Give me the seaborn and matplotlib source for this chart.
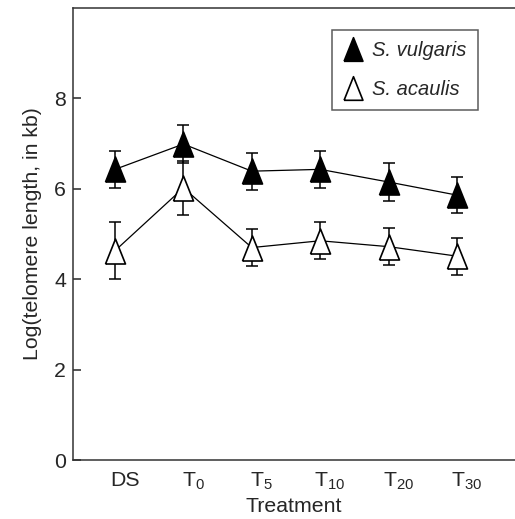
"""
Telomere length by treatment for two Silene species.
Line plot with error bars, drawn with seaborn + matplotlib.
"""

import numpy as np
import pandas as pd
import matplotlib
matplotlib.use("Agg")
import matplotlib.pyplot as plt
import matplotlib.transforms as mtransforms
from matplotlib.lines import Line2D
import seaborn as sns

# data
treatments = [r"DS", r"T$_{0}$", r"T$_{5}$", r"T$_{10}$", r"T$_{20}$", r"T$_{30}$"]
vulgaris_mean = [6.43, 6.99, 6.39, 6.43, 6.15, 5.86]
vulgaris_err = [0.41, 0.42, 0.41, 0.41, 0.41, 0.40]
acaulis_mean = [4.63, 6.02, 4.70, 4.85, 4.72, 4.51]
acaulis_err = [0.63, 0.59, 0.40, 0.41, 0.41, 0.41]
y_ticks = [0, 2, 4, 6, 8]

FONT = 15.3
LEG_FONT = 14.5
TRI = [(-0.8, -1.0), (0.8, -1.0), (0.0, 1.0), (-0.8, -1.0)]


def make_frame():
    pos = np.arange(len(treatments))
    df = pd.DataFrame({
        "pos": np.concatenate([pos, pos]),
        "value": vulgaris_mean + acaulis_mean,
        "err": vulgaris_err + acaulis_err,
        "species": ["S. vulgaris"] * len(pos) + ["S. acaulis"] * len(pos),
    })
    return df


def plot(df):
    sns.set_style("ticks")
    plt.rcParams["font.family"] = ["Liberation Sans", "DejaVu Sans"]
    plt.rcParams["mathtext.fontset"] = "custom"
    plt.rcParams["mathtext.rm"] = "Liberation Sans"
    plt.rcParams["mathtext.it"] = "Liberation Sans:italic"

    fig = plt.figure(figsize=(5.15, 5.19), dpi=100)
    ax = fig.add_axes([73 / 515, 59 / 519, 442 / 515, 452 / 519])

    faces = {"S. vulgaris": "black", "S. acaulis": "white"}
    for sp, face in faces.items():
        d = df[df["species"] == sp]
        ax.errorbar(d["pos"], d["value"], yerr=d["err"], fmt="none",
                    ecolor="black", elinewidth=1.1, capsize=4.5,
                    capthick=1.1, zorder=2)
        sns.lineplot(x=d["pos"], y=d["value"], ax=ax, color="black",
                     linewidth=0.9, marker=TRI, markersize=18,
                     markerfacecolor=face, markeredgecolor="black",
                     markeredgewidth=1.2, sort=False, zorder=3)

    ax.set_xlim(-0.614, 5.848)
    ax.set_ylim(0, 10)
    ax.set_yticks(y_ticks)
    ax.set_xticks(np.arange(len(treatments)))
    ax.set_xticklabels(treatments, fontsize=FONT)
    ax.tick_params(axis="y", direction="in", length=6, width=1.1,
                   labelsize=FONT, pad=5)
    ax.tick_params(axis="x", length=0, pad=8)
    # tick labels sit a little right of the points in the original
    shift = mtransforms.ScaledTranslation(7 / 72, 0, fig.dpi_scale_trans)
    for lab in ax.get_xticklabels():
        lab.set_transform(lab.get_transform() + shift)

    ax.set_xlabel("Treatment", fontsize=FONT, labelpad=3)
    ax.set_ylabel("Log(telomere length, in kb)", fontsize=FONT, labelpad=9)

    for side in ["left", "bottom", "top"]:
        ax.spines[side].set_linewidth(1.1)
        ax.spines[side].set_color("#333333")
    ax.spines["right"].set_visible(False)

    handles = [
        Line2D([], [], linestyle="none", marker=TRI, markersize=17,
               markerfacecolor=faces[sp], markeredgecolor="black",
               markeredgewidth=1.2)
        for sp in faces
    ]
    leg = ax.legend(handles, list(faces), loc="upper right",
                    bbox_to_anchor=(0.916, 0.951), borderaxespad=0,
                    frameon=True, fancybox=False, edgecolor="#333333",
                    prop={"style": "italic", "size": LEG_FONT},
                    handlelength=1.0, handletextpad=0.45,
                    labelspacing=1.0, borderpad=0.55)
    leg.get_frame().set_linewidth(1.1)

    fig.savefig("out.png", dpi=100)


def main():
    df = make_frame()
    plot(df)


if __name__ == "__main__":
    main()
